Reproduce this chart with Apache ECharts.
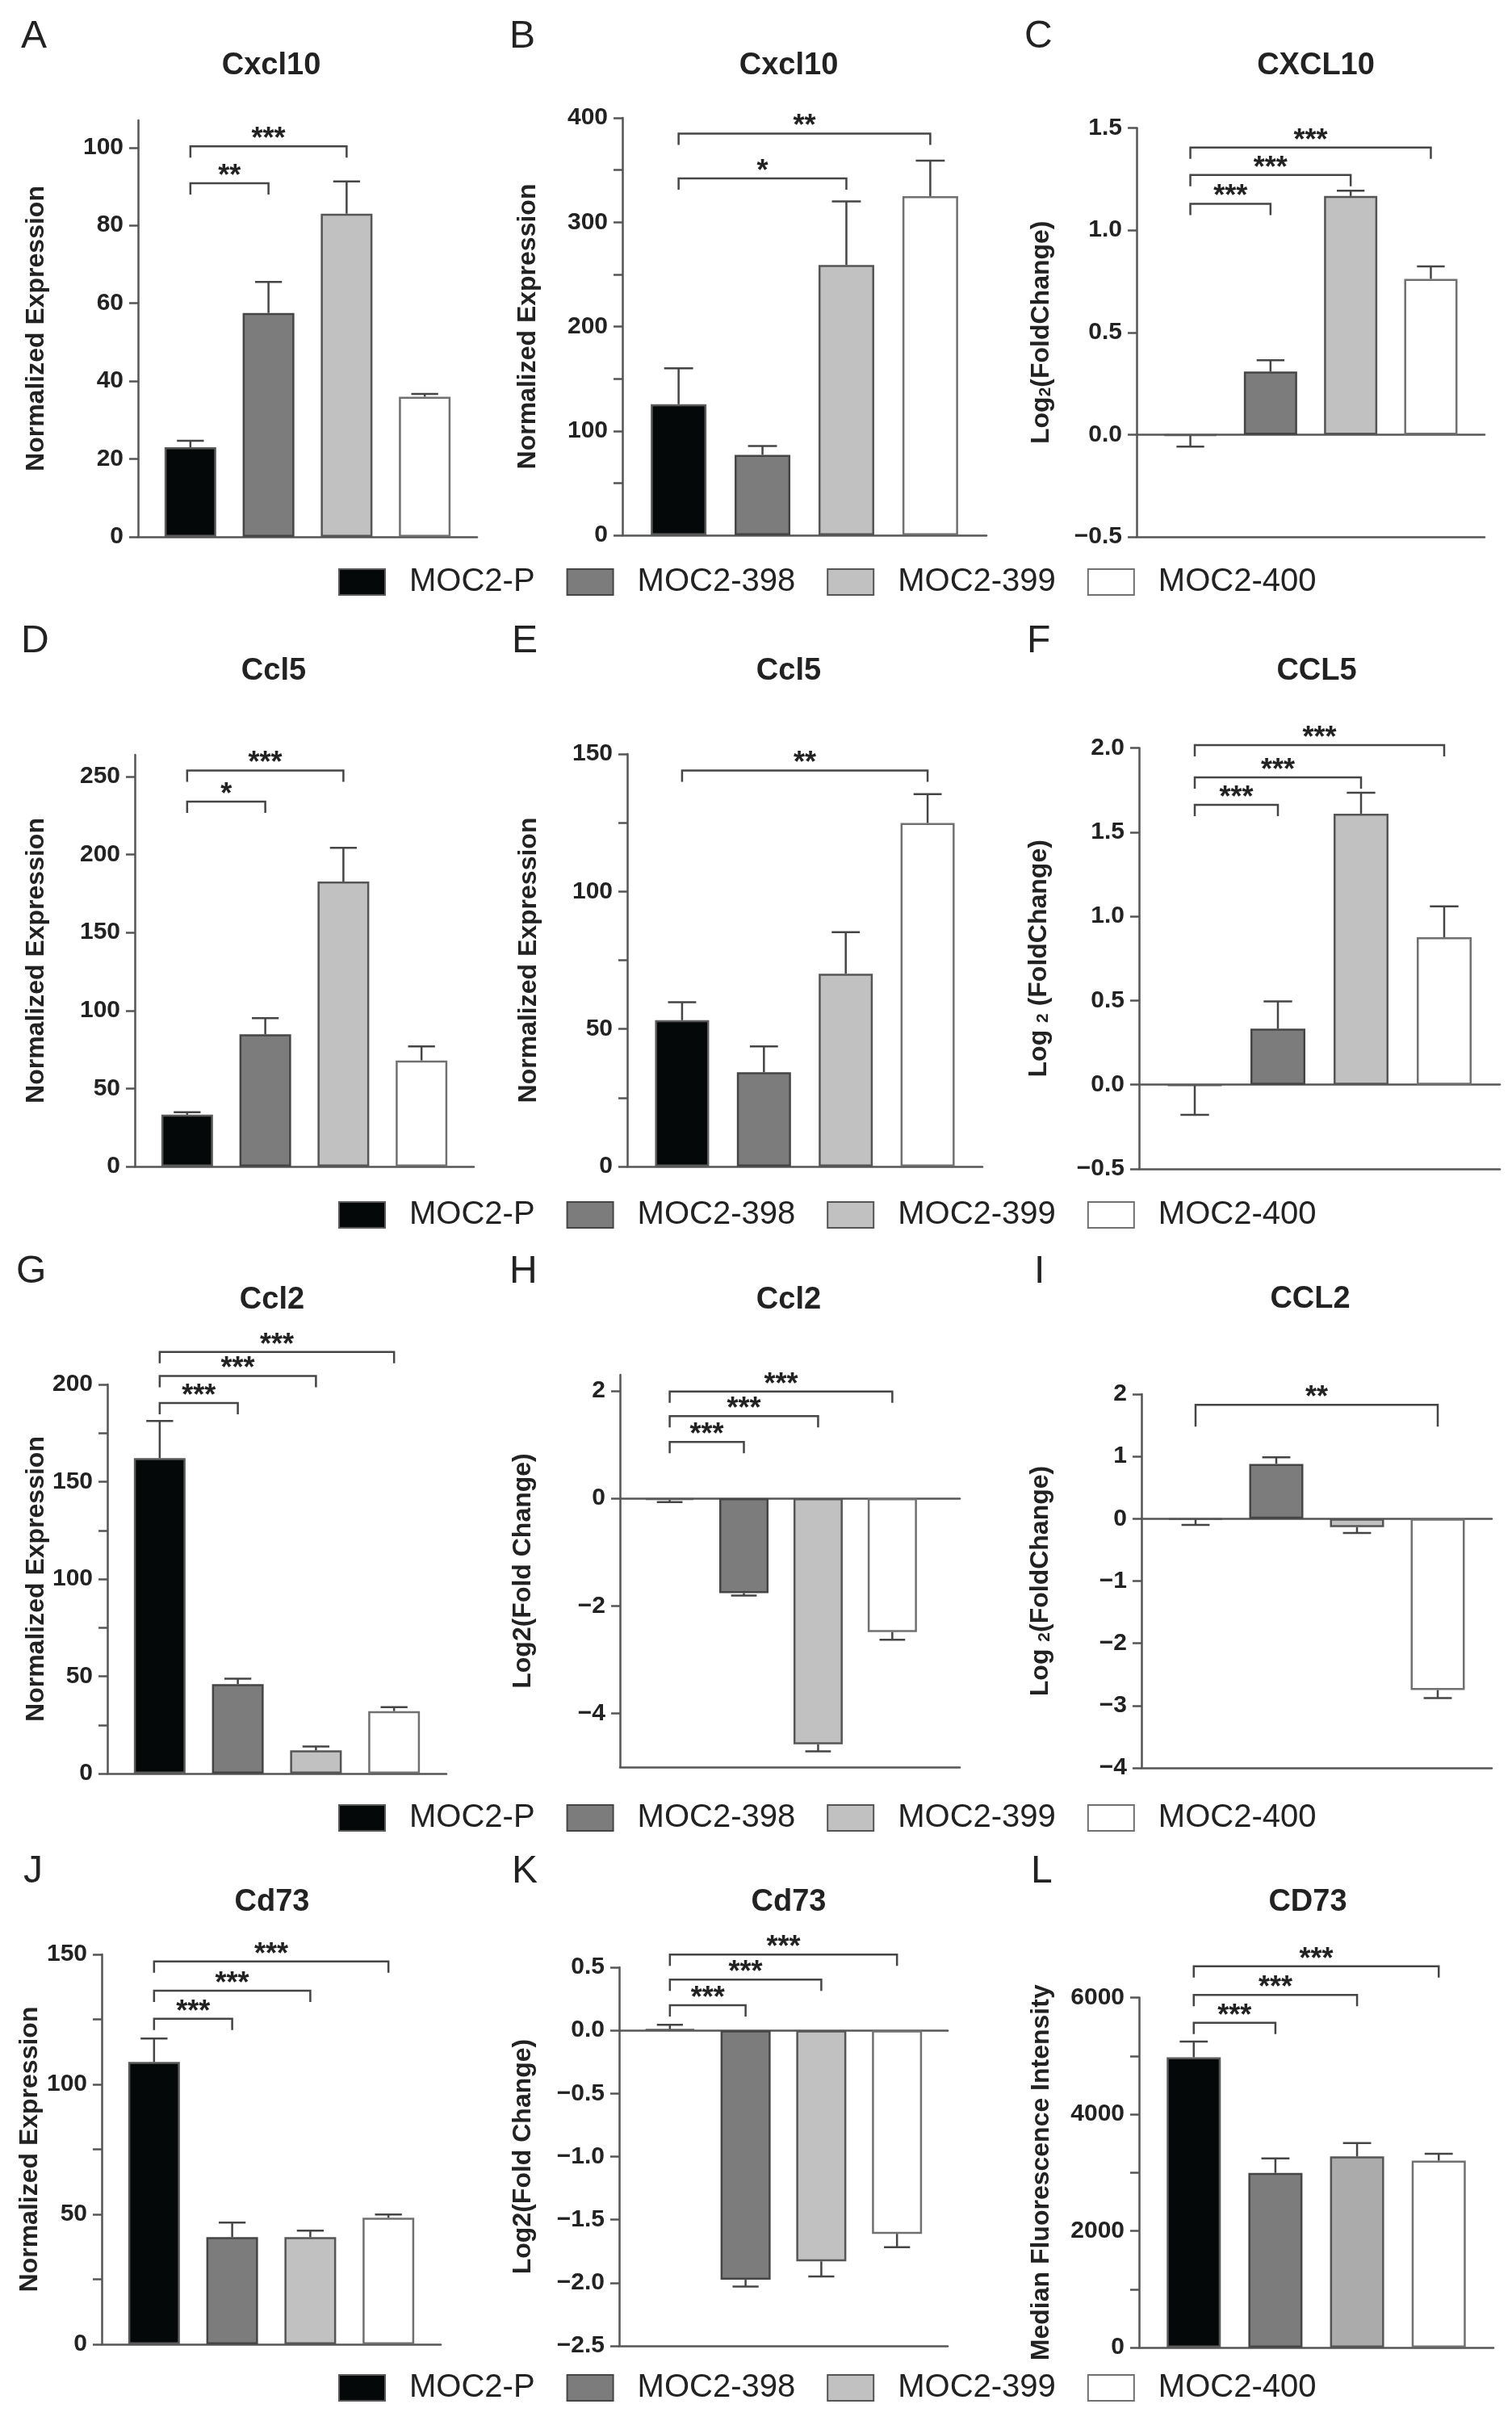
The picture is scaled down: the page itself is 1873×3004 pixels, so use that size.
<!DOCTYPE html>
<html>
<head>
<meta charset="utf-8">
<script src="https://cdn.jsdelivr.net/npm/echarts@6/dist/echarts.min.js"></script>
<style>
html, body { margin: 0; padding: 0; background: #fff; }
#fig { width: 1873px; height: 3004px; }
</style>
</head>
<body>
<div id="fig"></div>
<script>
// groups shown in every panel
var groups = ['MOC2-P', 'MOC2-398', 'MOC2-399', 'MOC2-400'];

var letters = ['A', 'B', 'C', 'D', 'E', 'F', 'G', 'H', 'I', 'J', 'K', 'L'];
var titles = ['Cxcl10', 'Cxcl10', 'CXCL10', 'Ccl5', 'Ccl5', 'CCL5',
              'Ccl2', 'Ccl2', 'CCL2', 'Cd73', 'Cd73', 'CD73'];
var yNames = ['Normalized Expression', 'Normalized Expression', 'Log{s|2}(FoldChange)',
              'Normalized Expression', 'Normalized Expression', 'Log {s|2} (FoldChange)',
              'Normalized Expression', 'Log2(Fold Change)', 'Log {s|2}(FoldChange)',
              'Normalized Expression', 'Log2(Fold Change)', 'Median Fluorescence Intensity'];

// bar heights and error bar ends (mean + / - error)
var valuesA = [23, 57.5, 83, 36];
var errorsA = [24.7, 65.5, 91.3, 36.7];
var valuesB = [125.5, 77, 259, 325];
var errorsB = [160, 85.5, 320, 359];
var valuesC = [-0.005, 0.308, 1.167, 0.762];
var errorsC = [-0.059, 0.364, 1.193, 0.823];
var valuesD = [33.2, 84.8, 182.7, 68];
var errorsD = [34.8, 95.1, 204.4, 77];
var valuesE = [53.2, 34.3, 70.1, 124.9];
var errorsE = [59.7, 43.7, 85.2, 135.4];
var valuesF = [-0.005, 0.333, 1.61, 0.876];
var errorsF = [-0.179, 0.495, 1.734, 1.06];
var valuesG = [162.1, 46, 11.9, 32.1];
var errorsG = [181.2, 48.8, 13.9, 34.1];
var valuesH = [-0.03, -1.762, -4.577, -2.487];
var errorsH = [-0.07, -1.81, -4.706, -2.63];
var valuesI = [-0.01, 0.88, -0.136, -2.75];
var errorsI = [-0.1, 0.985, -0.23, -2.88];
var valuesJ = [108.6, 41.2, 41.2, 48.7];
var errorsJ = [117.6, 46.8, 43.7, 49.9];
var valuesK = [0.01, -1.976, -1.83, -1.612];
var errorsK = [0.045, -2.03, -1.95, -1.718];
var valuesL = [4976, 2993, 3276, 3203];
var errorsL = [5245, 3243, 3505, 3322];

// significance brackets: [from group, to group, height], and their stars
var bracketsA = [[0, 1, 90.8], [0, 2, 100.3]];
var starsA = ['**', '***'];
var bracketsB = [[0, 2, 342], [0, 3, 385]];
var starsB = ['*', '**'];
var bracketsC = [[0, 1, 1.129], [0, 2, 1.27], [0, 3, 1.404]];
var starsC = ['***', '***', '***'];
var bracketsD = [[0, 1, 234], [0, 2, 253.9]];
var starsD = ['*', '***'];
var bracketsE = [[0, 3, 144]];
var starsE = ['**'];
var bracketsF = [[0, 1, 1.662], [0, 2, 1.826], [0, 3, 2.017]];
var starsF = ['***', '***', '***'];
var bracketsG = [[0, 1, 190.5], [0, 2, 204.4], [0, 3, 216.7]];
var starsG = ['***', '***', '***'];
var bracketsH = [[0, 1, 1.049], [0, 2, 1.53], [0, 3, 1.99]];
var starsH = ['***', '***', '***'];
var bracketsI = [[0, 3, 1.827]];
var starsI = ['**'];
var bracketsJ = [[0, 1, 125.2], [0, 2, 136], [0, 3, 147.3]];
var starsJ = ['***', '***', '***'];
var bracketsK = [[0, 1, 0.2], [0, 2, 0.403], [0, 3, 0.6]];
var starsK = ['***', '***', '***'];
var bracketsL = [[0, 1, 5567], [0, 2, 6046], [0, 3, 6538]];
var starsL = ['***', '***', '***'];

// y axis ticks and labelled ticks
var ticksA = [0, 20, 40, 60, 80, 100];
var labelsA = [0, 20, 40, 60, 80, 100];
var ticksB = [0, 50, 100, 150, 200, 250, 300, 350, 400];
var labelsB = [0, 100, 200, 300, 400];
var ticksC = [-0.5, 0, 0.5, 1, 1.5];
var labelsC = [-0.5, 0, 0.5, 1, 1.5];
var ticksD = [0, 50, 100, 150, 200, 250];
var labelsD = [0, 50, 100, 150, 200, 250];
var ticksE = [0, 25, 50, 75, 100, 125, 150];
var labelsE = [0, 50, 100, 150];
var ticksF = [-0.5, 0, 0.5, 1, 1.5, 2];
var labelsF = [-0.5, 0, 0.5, 1, 1.5, 2];
var ticksG = [0, 25, 50, 75, 100, 125, 150, 175, 200];
var labelsG = [0, 50, 100, 150, 200];
var ticksH = [-4, -2, 0, 2];
var labelsH = [-4, -2, 0, 2];
var ticksI = [-4, -3, -2, -1, 0, 1, 2];
var labelsI = [-4, -3, -2, -1, 0, 1, 2];
var ticksJ = [0, 25, 50, 75, 100, 125, 150];
var labelsJ = [0, 50, 100, 150];
var ticksK = [-2.5, -2, -1.5, -1, -0.5, 0, 0.5];
var labelsK = [-2.5, -2, -1.5, -1, -0.5, 0, 0.5];
var ticksL = [0, 1000, 2000, 3000, 4000, 5000, 6000];
var labelsL = [0, 2000, 4000, 6000];

var panels = [
    {values: valuesA, errors: errorsA, brackets: bracketsA, stars: starsA, ticks: ticksA, labels: labelsA},
    {values: valuesB, errors: errorsB, brackets: bracketsB, stars: starsB, ticks: ticksB, labels: labelsB},
    {values: valuesC, errors: errorsC, brackets: bracketsC, stars: starsC, ticks: ticksC, labels: labelsC},
    {values: valuesD, errors: errorsD, brackets: bracketsD, stars: starsD, ticks: ticksD, labels: labelsD},
    {values: valuesE, errors: errorsE, brackets: bracketsE, stars: starsE, ticks: ticksE, labels: labelsE},
    {values: valuesF, errors: errorsF, brackets: bracketsF, stars: starsF, ticks: ticksF, labels: labelsF},
    {values: valuesG, errors: errorsG, brackets: bracketsG, stars: starsG, ticks: ticksG, labels: labelsG},
    {values: valuesH, errors: errorsH, brackets: bracketsH, stars: starsH, ticks: ticksH, labels: labelsH},
    {values: valuesI, errors: errorsI, brackets: bracketsI, stars: starsI, ticks: ticksI, labels: labelsI},
    {values: valuesJ, errors: errorsJ, brackets: bracketsJ, stars: starsJ, ticks: ticksJ, labels: labelsJ},
    {values: valuesK, errors: errorsK, brackets: bracketsK, stars: starsK, ticks: ticksK, labels: labelsK},
    {values: valuesL, errors: errorsL, brackets: bracketsL, stars: starsL, ticks: ticksL, labels: labelsL}
];

// page layout of every panel (pixels) and axis ranges
var boxes = [
    {l: 171, r: 591, t: 149, b: 665, ymin: 0, ymax: 107, gap: 110, tx: 336, ty: 82, lx: 26, ly: 46},
    {l: 771, r: 1222, t: 146, b: 663, ymin: 0, ymax: 400, gap: 101, tx: 977, ty: 82, lx: 631, ly: 46},
    {l: 1408, r: 1839, t: 158.5, b: 665, ymin: -0.5, ymax: 1.5, gap: 102, dec: 1, frame: true, tx: 1630, ty: 82, lx: 1269, ly: 46},
    {l: 167, r: 587, t: 935, b: 1445, ymin: 0, ymax: 264, gap: 106, tx: 339, ty: 832, lx: 26, ly: 795},
    {l: 777, r: 1217, t: 934, b: 1445, ymin: 0, ymax: 150, gap: 106, tx: 977, ty: 832, lx: 634, ly: 795},
    {l: 1411, r: 1858, t: 926.6, b: 1448, ymin: -0.5, ymax: 2, gap: 108, dec: 1, frame: true, tx: 1631, ty: 832, lx: 1272, ly: 795},
    {l: 133, r: 553, t: 1715, b: 2197, ymin: 0, ymax: 200, gap: 72, tx: 337, ty: 1611, lx: 20, ly: 1576},
    {l: 768, r: 1189, t: 1703, b: 2189, ymin: -5, ymax: 2.3, gap: 104, frame: true, xmax: 3.91, tx: 977, ty: 1611, lx: 631, ly: 1576},
    {l: 1414, r: 1848, t: 1727, b: 2190, ymin: -4, ymax: 2, gap: 109, frame: true, drop: 27, tx: 1623, ty: 1610, lx: 1281, ly: 1576},
    {l: 126, r: 546, t: 2421, b: 2904, ymin: 0, ymax: 150, gap: 73, tx: 337, ty: 2357, lx: 29, ly: 2319},
    {l: 767, r: 1174, t: 2437, b: 2906, ymin: -2.5, ymax: 0.5, gap: 103, dec: 1, frame: true, tx: 977, ty: 2357, lx: 634, ly: 2319},
    {l: 1411, r: 1850, t: 2474.5, b: 2908, ymin: 0, ymax: 6000, gap: 105, tx: 1620, ty: 2357, lx: 1277, ly: 2319}
];
var legendTops = [701, 1485, 2232, 2938];

var FONT = '"Liberation Sans", Arial, Helvetica, sans-serif';
var fills = ['#050808', '#7b7c7b', '#c1c1c1', '#ffffff'];
var edges = ['#5a5a5a', '#454545', '#555555', '#707070'];
var LINE = '#555555';
var INK = '#222222';

// L uses a slightly darker grey for the third group
var fillsL = ['#050808', '#7b7c7b', '#ababab', '#ffffff'];

function tickFormatter(dec) {
    return function (v) {
        var s = dec ? v.toFixed(dec) : String(Math.round(v));
        return s.replace('-', '\u2212');
    };
}

var grid = [], xAxis = [], yAxis = [], series = [], graphic = [];

panels.forEach(function (p, i) {
    var b = boxes[i];
    var xmin = b.xmin !== undefined ? b.xmin : -0.67;
    var xmax = b.xmax !== undefined ? b.xmax : 3.67;
    var step = (b.r - b.l) / (xmax - xmin);
    var barW = Math.round(step * 0.665);
    var capW = barW * 0.52;
    var drop = b.drop || 14;
    var colors = i === 11 ? fillsL : fills;

    grid.push({
        left: b.l, top: b.t, width: b.r - b.l, height: b.b - b.t,
        containLabel: false, outerBoundsMode: 'none'
    });

    var axisLineStyle = {color: LINE, width: 2.5};
    xAxis.push({
        gridIndex: i, type: 'value', min: xmin, max: xmax,
        position: b.frame ? 'top' : 'bottom',
        axisLine: {show: true, onZero: true, lineStyle: axisLineStyle},
        axisTick: {show: false}, axisLabel: {show: false}, splitLine: {show: false}
    });
    xAxis.push({
        gridIndex: i, type: 'value', min: xmin, max: xmax, position: 'bottom',
        show: !!b.frame,
        axisLine: {show: true, onZero: false, lineStyle: axisLineStyle},
        axisTick: {show: false}, axisLabel: {show: false}, splitLine: {show: false}
    });
    yAxis.push({
        gridIndex: i, type: 'value', min: b.ymin, max: b.ymax,
        axisLine: {show: true, onZero: false, lineStyle: axisLineStyle},
        axisTick: {show: true, length: 11, customValues: p.ticks, lineStyle: axisLineStyle},
        axisLabel: {
            customValues: p.labels, formatter: tickFormatter(b.dec), margin: 18,
            fontSize: 30, fontWeight: 'bold', color: INK, fontFamily: FONT
        },
        splitLine: {show: false},
        name: yNames[i], nameLocation: 'middle', nameRotate: 90, nameGap: b.gap,
        nameTextStyle: {
            fontSize: 32, fontWeight: 'bold', color: INK, fontFamily: FONT,
            rich: {
                s: {fontSize: 21, fontWeight: 'bold', color: INK, fontFamily: FONT,
                    lineHeight: 10, verticalAlign: 'bottom'}
            }
        }
    });

    groups.forEach(function (g, k) {
        series.push({
            type: 'bar', name: g, xAxisIndex: 2 * i, yAxisIndex: i,
            barWidth: barW, barGap: '-100%',
            data: [[k, p.values[k]]],
            itemStyle: {color: colors[k], borderColor: edges[k], borderWidth: 2.5},
            silent: true
        });
    });

    series.push({
        type: 'custom', xAxisIndex: 2 * i, yAxisIndex: i, silent: true, z: 3,
        data: p.values.map(function (v, k) { return [k, v, p.errors[k]]; }),
        encode: {x: 0, y: [1, 2]},
        renderItem: function (params, api) {
            var a = api.coord([api.value(0), api.value(1)]);
            var e = api.coord([api.value(0), api.value(2)]);
            var st = {stroke: '#454545', lineWidth: 2.5};
            return {
                type: 'group',
                children: [
                    {type: 'line', shape: {x1: a[0], y1: a[1], x2: e[0], y2: e[1]}, style: st},
                    {type: 'line', shape: {x1: e[0] - capW / 2, y1: e[1], x2: e[0] + capW / 2, y2: e[1]}, style: st}
                ]
            };
        }
    });

    series.push({
        type: 'custom', xAxisIndex: 2 * i, yAxisIndex: i, silent: true, z: 4,
        data: p.brackets,
        encode: {x: [0, 1], y: 2},
        renderItem: function (params, api) {
            var a = api.coord([api.value(0), api.value(2)]);
            var c = api.coord([api.value(1), api.value(2)]);
            return {
                type: 'group',
                children: [
                    {
                        type: 'polyline',
                        shape: {points: [[a[0], a[1] + drop], [a[0], a[1]], [c[0], c[1]], [c[0], c[1] + drop]]},
                        style: {stroke: '#454545', lineWidth: 2.5, fill: 'none'}
                    },
                    {
                        type: 'text', x: (a[0] + c[0]) / 2, y: a[1] - 8,
                        style: {
                            text: p.stars[params.dataIndex], fontSize: 36, fontWeight: 'bold',
                            fontFamily: FONT, fill: INK, align: 'center', verticalAlign: 'middle'
                        }
                    }
                ]
            };
        }
    });

    graphic.push({
        type: 'text', x: b.tx, y: b.ty,
        style: {text: titles[i], fontSize: 38, fontWeight: 'bold', fontFamily: FONT,
                fill: INK, align: 'center', verticalAlign: 'middle'}
    });
    graphic.push({
        type: 'text', x: b.lx, y: b.ly,
        style: {text: letters[i], fontSize: 48, fontFamily: FONT,
                fill: INK, align: 'left', verticalAlign: 'middle'}
    });
});

var legend = legendTops.map(function (top) {
    return {
        data: groups, left: 419, top: top, orient: 'horizontal', padding: 0,
        icon: 'rect', itemWidth: 57, itemHeight: 32, itemGap: 39, selectedMode: false,
        textStyle: {fontSize: 40, color: INK, fontFamily: FONT, padding: [0, 0, 0, 25]}
    };
});

var chart = echarts.init(document.getElementById('fig'));
chart.setOption({
    backgroundColor: '#ffffff',
    animation: false,
    grid: grid,
    xAxis: xAxis,
    yAxis: yAxis,
    legend: legend,
    graphic: graphic,
    series: series
});
</script>
</body>
</html>
